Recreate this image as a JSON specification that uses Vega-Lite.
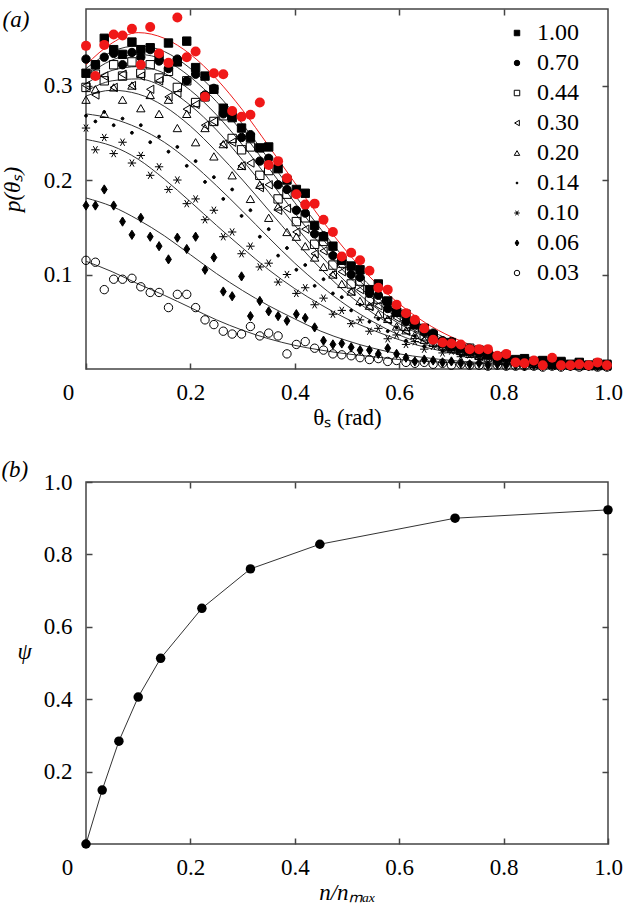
{
"$schema": "https://vega.github.io/schema/vega-lite/v6.json",
"padding": {"left": 0, "top": 7, "right": 10, "bottom": 0},
"spacing": 28,
"config": {
  "font": "Liberation Serif, Times New Roman, serif",
  "view": {"stroke": "#444", "strokeWidth": 1.5},
  "axis": {"domain": false, "grid": false, "tickSize": -6, "tickColor": "#444", "tickWidth": 1.5, "labelFontSize": 23, "labelColor": "black", "titleFontSize": 23, "titleFontWeight": "normal", "titleColor": "black", "labelFont": "Liberation Serif, Times New Roman, serif", "titleFont": "Liberation Serif, Times New Roman, serif", "labelFlush": false, "labelOverlap": false},
  "title": {"fontSize": 23, "fontWeight": "normal", "font": "Liberation Serif, Times New Roman, serif", "fontStyle": "italic", "orient": "left", "anchor": "end", "frame": "group", "angle": 0, "align": "left", "offset": -55}
},
"datasets": {
"curves": [
{"c":"R","t":0,"p":0.322},{"c":"R","t":0.05,"p":0.345},{"c":"R","t":0.1,"p":0.356},{"c":"R","t":0.15,"p":0.35},{"c":"R","t":0.2,"p":0.333},{"c":"R","t":0.25,"p":0.307},{"c":"R","t":0.3,"p":0.274},{"c":"R","t":0.35,"p":0.236},{"c":"R","t":0.4,"p":0.197},{"c":"R","t":0.45,"p":0.159},{"c":"R","t":0.5,"p":0.124},{"c":"R","t":0.55,"p":0.094},{"c":"R","t":0.6,"p":0.069},{"c":"R","t":0.65,"p":0.049},{"c":"R","t":0.7,"p":0.034},{"c":"R","t":0.75,"p":0.023},{"c":"R","t":0.8,"p":0.015},{"c":"R","t":0.85,"p":0.01},{"c":"R","t":0.9,"p":0.007},{"c":"R","t":0.95,"p":0.005},{"c":"R","t":1,"p":0.004},
{"c":"A","t":0,"p":0.318},{"c":"A","t":0.05,"p":0.336},{"c":"A","t":0.1,"p":0.342},{"c":"A","t":0.15,"p":0.336},{"c":"A","t":0.2,"p":0.318},{"c":"A","t":0.25,"p":0.292},{"c":"A","t":0.3,"p":0.259},{"c":"A","t":0.35,"p":0.222},{"c":"A","t":0.4,"p":0.184},{"c":"A","t":0.45,"p":0.148},{"c":"A","t":0.5,"p":0.114},{"c":"A","t":0.55,"p":0.085},{"c":"A","t":0.6,"p":0.062},{"c":"A","t":0.65,"p":0.044},{"c":"A","t":0.7,"p":0.03},{"c":"A","t":0.75,"p":0.02},{"c":"A","t":0.8,"p":0.013},{"c":"A","t":0.85,"p":0.009},{"c":"A","t":0.9,"p":0.006},{"c":"A","t":0.95,"p":0.005},{"c":"A","t":1,"p":0.004},
{"c":"B","t":0,"p":0.31},{"c":"B","t":0.05,"p":0.327},{"c":"B","t":0.1,"p":0.333},{"c":"B","t":0.15,"p":0.327},{"c":"B","t":0.2,"p":0.309},{"c":"B","t":0.25,"p":0.283},{"c":"B","t":0.3,"p":0.25},{"c":"B","t":0.35,"p":0.213},{"c":"B","t":0.4,"p":0.176},{"c":"B","t":0.45,"p":0.14},{"c":"B","t":0.5,"p":0.107},{"c":"B","t":0.55,"p":0.08},{"c":"B","t":0.6,"p":0.058},{"c":"B","t":0.65,"p":0.041},{"c":"B","t":0.7,"p":0.028},{"c":"B","t":0.75,"p":0.019},{"c":"B","t":0.8,"p":0.012},{"c":"B","t":0.85,"p":0.008},{"c":"B","t":0.9,"p":0.006},{"c":"B","t":0.95,"p":0.005},{"c":"B","t":1,"p":0.004},
{"c":"C","t":0,"p":0.302},{"c":"C","t":0.05,"p":0.316},{"c":"C","t":0.1,"p":0.32},{"c":"C","t":0.15,"p":0.313},{"c":"C","t":0.2,"p":0.295},{"c":"C","t":0.25,"p":0.269},{"c":"C","t":0.3,"p":0.237},{"c":"C","t":0.35,"p":0.201},{"c":"C","t":0.4,"p":0.165},{"c":"C","t":0.45,"p":0.131},{"c":"C","t":0.5,"p":0.1},{"c":"C","t":0.55,"p":0.074},{"c":"C","t":0.6,"p":0.053},{"c":"C","t":0.65,"p":0.037},{"c":"C","t":0.7,"p":0.026},{"c":"C","t":0.75,"p":0.017},{"c":"C","t":0.8,"p":0.011},{"c":"C","t":0.85,"p":0.008},{"c":"C","t":0.9,"p":0.006},{"c":"C","t":0.95,"p":0.005},{"c":"C","t":1,"p":0.004},
{"c":"D","t":0,"p":0.294},{"c":"D","t":0.05,"p":0.305},{"c":"D","t":0.1,"p":0.307},{"c":"D","t":0.15,"p":0.298},{"c":"D","t":0.2,"p":0.279},{"c":"D","t":0.25,"p":0.253},{"c":"D","t":0.3,"p":0.221},{"c":"D","t":0.35,"p":0.187},{"c":"D","t":0.4,"p":0.152},{"c":"D","t":0.45,"p":0.12},{"c":"D","t":0.5,"p":0.091},{"c":"D","t":0.55,"p":0.067},{"c":"D","t":0.6,"p":0.048},{"c":"D","t":0.65,"p":0.034},{"c":"D","t":0.7,"p":0.023},{"c":"D","t":0.75,"p":0.015},{"c":"D","t":0.8,"p":0.01},{"c":"D","t":0.85,"p":0.007},{"c":"D","t":0.9,"p":0.005},{"c":"D","t":0.95,"p":0.004},{"c":"D","t":1,"p":0.003},
{"c":"E","t":0,"p":0.289},{"c":"E","t":0.05,"p":0.295},{"c":"E","t":0.1,"p":0.291},{"c":"E","t":0.15,"p":0.278},{"c":"E","t":0.2,"p":0.257},{"c":"E","t":0.25,"p":0.23},{"c":"E","t":0.3,"p":0.2},{"c":"E","t":0.35,"p":0.168},{"c":"E","t":0.4,"p":0.136},{"c":"E","t":0.45,"p":0.106},{"c":"E","t":0.5,"p":0.08},{"c":"E","t":0.55,"p":0.059},{"c":"E","t":0.6,"p":0.042},{"c":"E","t":0.65,"p":0.029},{"c":"E","t":0.7,"p":0.02},{"c":"E","t":0.75,"p":0.013},{"c":"E","t":0.8,"p":0.009},{"c":"E","t":0.85,"p":0.006},{"c":"E","t":0.9,"p":0.005},{"c":"E","t":0.95,"p":0.004},{"c":"E","t":1,"p":0.003},
{"c":"F","t":0,"p":0.27},{"c":"F","t":0.05,"p":0.265},{"c":"F","t":0.1,"p":0.255},{"c":"F","t":0.15,"p":0.24},{"c":"F","t":0.2,"p":0.219},{"c":"F","t":0.25,"p":0.194},{"c":"F","t":0.3,"p":0.167},{"c":"F","t":0.35,"p":0.139},{"c":"F","t":0.4,"p":0.112},{"c":"F","t":0.45,"p":0.088},{"c":"F","t":0.5,"p":0.067},{"c":"F","t":0.55,"p":0.05},{"c":"F","t":0.6,"p":0.036},{"c":"F","t":0.65,"p":0.026},{"c":"F","t":0.7,"p":0.018},{"c":"F","t":0.75,"p":0.012},{"c":"F","t":0.8,"p":0.008},{"c":"F","t":0.85,"p":0.006},{"c":"F","t":0.9,"p":0.005},{"c":"F","t":0.95,"p":0.004},{"c":"F","t":1,"p":0.003},
{"c":"G","t":0,"p":0.243},{"c":"G","t":0.05,"p":0.236},{"c":"G","t":0.1,"p":0.222},{"c":"G","t":0.15,"p":0.201},{"c":"G","t":0.2,"p":0.177},{"c":"G","t":0.25,"p":0.152},{"c":"G","t":0.3,"p":0.128},{"c":"G","t":0.35,"p":0.105},{"c":"G","t":0.4,"p":0.085},{"c":"G","t":0.45,"p":0.068},{"c":"G","t":0.5,"p":0.053},{"c":"G","t":0.55,"p":0.041},{"c":"G","t":0.6,"p":0.031},{"c":"G","t":0.65,"p":0.023},{"c":"G","t":0.7,"p":0.017},{"c":"G","t":0.75,"p":0.012},{"c":"G","t":0.8,"p":0.009},{"c":"G","t":0.85,"p":0.006},{"c":"G","t":0.9,"p":0.005},{"c":"G","t":0.95,"p":0.004},{"c":"G","t":1,"p":0.003},
{"c":"H","t":0,"p":0.181},{"c":"H","t":0.05,"p":0.172},{"c":"H","t":0.1,"p":0.158},{"c":"H","t":0.15,"p":0.141},{"c":"H","t":0.2,"p":0.121},{"c":"H","t":0.25,"p":0.101},{"c":"H","t":0.3,"p":0.083},{"c":"H","t":0.35,"p":0.067},{"c":"H","t":0.4,"p":0.053},{"c":"H","t":0.45,"p":0.04},{"c":"H","t":0.5,"p":0.03},{"c":"H","t":0.55,"p":0.022},{"c":"H","t":0.6,"p":0.016},{"c":"H","t":0.65,"p":0.012},{"c":"H","t":0.7,"p":0.009},{"c":"H","t":0.75,"p":0.007},{"c":"H","t":0.8,"p":0.006},{"c":"H","t":0.85,"p":0.005},{"c":"H","t":0.9,"p":0.004},{"c":"H","t":0.95,"p":0.003},{"c":"H","t":1,"p":0.003},
{"c":"I","t":0,"p":0.114},{"c":"I","t":0.05,"p":0.103},{"c":"I","t":0.1,"p":0.09},{"c":"I","t":0.15,"p":0.078},{"c":"I","t":0.2,"p":0.065},{"c":"I","t":0.25,"p":0.052},{"c":"I","t":0.3,"p":0.041},{"c":"I","t":0.35,"p":0.032},{"c":"I","t":0.4,"p":0.025},{"c":"I","t":0.45,"p":0.02},{"c":"I","t":0.5,"p":0.016},{"c":"I","t":0.55,"p":0.013},{"c":"I","t":0.6,"p":0.01},{"c":"I","t":0.65,"p":0.008},{"c":"I","t":0.7,"p":0.007},{"c":"I","t":0.75,"p":0.006},{"c":"I","t":0.8,"p":0.005},{"c":"I","t":0.85,"p":0.004},{"c":"I","t":0.9,"p":0.004},{"c":"I","t":0.95,"p":0.003},{"c":"I","t":1,"p":0.003}
],
"pts": [
{"s":"0.03","t":0,"p":0.115},{"s":"0.03","t":0.018,"p":0.113},{"s":"0.03","t":0.035,"p":0.084},{"s":"0.03","t":0.053,"p":0.095},{"s":"0.03","t":0.07,"p":0.095},{"s":"0.03","t":0.088,"p":0.096},{"s":"0.03","t":0.105,"p":0.087},{"s":"0.03","t":0.123,"p":0.081},{"s":"0.03","t":0.14,"p":0.081},{"s":"0.03","t":0.158,"p":0.065},{"s":"0.03","t":0.175,"p":0.079},{"s":"0.03","t":0.193,"p":0.079},{"s":"0.03","t":0.21,"p":0.065},{"s":"0.03","t":0.228,"p":0.052},{"s":"0.03","t":0.245,"p":0.047},{"s":"0.03","t":0.263,"p":0.04},{"s":"0.03","t":0.28,"p":0.037},{"s":"0.03","t":0.298,"p":0.037},{"s":"0.03","t":0.315,"p":0.045},{"s":"0.03","t":0.333,"p":0.035},{"s":"0.03","t":0.35,"p":0.038},{"s":"0.03","t":0.368,"p":0.035},{"s":"0.03","t":0.385,"p":0.016},{"s":"0.03","t":0.403,"p":0.026},{"s":"0.03","t":0.42,"p":0.029},{"s":"0.03","t":0.438,"p":0.022},{"s":"0.03","t":0.455,"p":0.02},{"s":"0.03","t":0.473,"p":0.016},{"s":"0.03","t":0.49,"p":0.015},{"s":"0.03","t":0.508,"p":0.014},{"s":"0.03","t":0.525,"p":0.012},{"s":"0.03","t":0.543,"p":0.01},{"s":"0.03","t":0.56,"p":0.011},{"s":"0.03","t":0.578,"p":0.008},{"s":"0.03","t":0.595,"p":0.009},{"s":"0.03","t":0.613,"p":0.007},{"s":"0.03","t":0.63,"p":0.006},{"s":"0.03","t":0.648,"p":0.007},{"s":"0.03","t":0.665,"p":0.005},{"s":"0.03","t":0.683,"p":0.006},{"s":"0.03","t":0.7,"p":0.004},{"s":"0.03","t":0.718,"p":0.005},{"s":"0.03","t":0.735,"p":0.004},{"s":"0.03","t":0.753,"p":0.004},{"s":"0.03","t":0.77,"p":0.003},{"s":"0.03","t":0.788,"p":0.004},{"s":"0.03","t":0.805,"p":0.003},{"s":"0.03","t":0.823,"p":0.003},{"s":"0.03","t":0.84,"p":0.003},{"s":"0.03","t":0.858,"p":0.003},{"s":"0.03","t":0.875,"p":0.002},{"s":"0.03","t":0.893,"p":0.003},{"s":"0.03","t":0.91,"p":0.002},{"s":"0.03","t":0.928,"p":0.003},{"s":"0.03","t":0.945,"p":0.002},{"s":"0.03","t":0.963,"p":0.003},{"s":"0.03","t":0.98,"p":0.002},{"s":"0.03","t":0.998,"p":0.002},
{"s":"0.06","t":0,"p":0.173},{"s":"0.06","t":0.018,"p":0.173},{"s":"0.06","t":0.035,"p":0.19},{"s":"0.06","t":0.053,"p":0.173},{"s":"0.06","t":0.07,"p":0.156},{"s":"0.06","t":0.088,"p":0.142},{"s":"0.06","t":0.105,"p":0.16},{"s":"0.06","t":0.123,"p":0.14},{"s":"0.06","t":0.14,"p":0.13},{"s":"0.06","t":0.158,"p":0.116},{"s":"0.06","t":0.175,"p":0.139},{"s":"0.06","t":0.193,"p":0.127},{"s":"0.06","t":0.21,"p":0.14},{"s":"0.06","t":0.228,"p":0.105},{"s":"0.06","t":0.245,"p":0.118},{"s":"0.06","t":0.263,"p":0.082},{"s":"0.06","t":0.28,"p":0.077},{"s":"0.06","t":0.298,"p":0.098},{"s":"0.06","t":0.315,"p":0.056},{"s":"0.06","t":0.333,"p":0.072},{"s":"0.06","t":0.35,"p":0.061},{"s":"0.06","t":0.368,"p":0.056},{"s":"0.06","t":0.385,"p":0.051},{"s":"0.06","t":0.403,"p":0.058},{"s":"0.06","t":0.42,"p":0.054},{"s":"0.06","t":0.438,"p":0.044},{"s":"0.06","t":0.455,"p":0.03},{"s":"0.06","t":0.473,"p":0.026},{"s":"0.06","t":0.49,"p":0.027},{"s":"0.06","t":0.508,"p":0.023},{"s":"0.06","t":0.525,"p":0.02},{"s":"0.06","t":0.543,"p":0.02},{"s":"0.06","t":0.56,"p":0.016},{"s":"0.06","t":0.578,"p":0.022},{"s":"0.06","t":0.595,"p":0.016},{"s":"0.06","t":0.613,"p":0.012},{"s":"0.06","t":0.63,"p":0.008},{"s":"0.06","t":0.648,"p":0.01},{"s":"0.06","t":0.665,"p":0.009},{"s":"0.06","t":0.683,"p":0.007},{"s":"0.06","t":0.7,"p":0.008},{"s":"0.06","t":0.718,"p":0.006},{"s":"0.06","t":0.735,"p":0.005},{"s":"0.06","t":0.753,"p":0.006},{"s":"0.06","t":0.77,"p":0.004},{"s":"0.06","t":0.788,"p":0.005},{"s":"0.06","t":0.805,"p":0.004},{"s":"0.06","t":0.823,"p":0.004},{"s":"0.06","t":0.84,"p":0.003},{"s":"0.06","t":0.858,"p":0.004},{"s":"0.06","t":0.875,"p":0.003},{"s":"0.06","t":0.893,"p":0.004},{"s":"0.06","t":0.91,"p":0.003},{"s":"0.06","t":0.928,"p":0.003},{"s":"0.06","t":0.945,"p":0.004},{"s":"0.06","t":0.963,"p":0.003},{"s":"0.06","t":0.98,"p":0.003},{"s":"0.06","t":0.998,"p":0.003},
{"s":"0.10","t":0,"p":0.255},{"s":"0.10","t":0.018,"p":0.232},{"s":"0.10","t":0.035,"p":0.245},{"s":"0.10","t":0.053,"p":0.228},{"s":"0.10","t":0.07,"p":0.24},{"s":"0.10","t":0.088,"p":0.218},{"s":"0.10","t":0.105,"p":0.226},{"s":"0.10","t":0.123,"p":0.205},{"s":"0.10","t":0.14,"p":0.214},{"s":"0.10","t":0.158,"p":0.19},{"s":"0.10","t":0.175,"p":0.2},{"s":"0.10","t":0.193,"p":0.175},{"s":"0.10","t":0.21,"p":0.18},{"s":"0.10","t":0.228,"p":0.158},{"s":"0.10","t":0.245,"p":0.168},{"s":"0.10","t":0.263,"p":0.14},{"s":"0.10","t":0.28,"p":0.145},{"s":"0.10","t":0.298,"p":0.122},{"s":"0.10","t":0.315,"p":0.13},{"s":"0.10","t":0.333,"p":0.108},{"s":"0.10","t":0.35,"p":0.112},{"s":"0.10","t":0.368,"p":0.092},{"s":"0.10","t":0.385,"p":0.1},{"s":"0.10","t":0.403,"p":0.08},{"s":"0.10","t":0.42,"p":0.086},{"s":"0.10","t":0.438,"p":0.068},{"s":"0.10","t":0.455,"p":0.075},{"s":"0.10","t":0.473,"p":0.058},{"s":"0.10","t":0.49,"p":0.062},{"s":"0.10","t":0.508,"p":0.048},{"s":"0.10","t":0.525,"p":0.052},{"s":"0.10","t":0.543,"p":0.04},{"s":"0.10","t":0.56,"p":0.043},{"s":"0.10","t":0.578,"p":0.032},{"s":"0.10","t":0.595,"p":0.036},{"s":"0.10","t":0.613,"p":0.026},{"s":"0.10","t":0.63,"p":0.029},{"s":"0.10","t":0.648,"p":0.021},{"s":"0.10","t":0.665,"p":0.024},{"s":"0.10","t":0.683,"p":0.017},{"s":"0.10","t":0.7,"p":0.019},{"s":"0.10","t":0.718,"p":0.013},{"s":"0.10","t":0.735,"p":0.015},{"s":"0.10","t":0.753,"p":0.01},{"s":"0.10","t":0.77,"p":0.012},{"s":"0.10","t":0.788,"p":0.008},{"s":"0.10","t":0.805,"p":0.009},{"s":"0.10","t":0.823,"p":0.006},{"s":"0.10","t":0.84,"p":0.007},{"s":"0.10","t":0.858,"p":0.005},{"s":"0.10","t":0.875,"p":0.006},{"s":"0.10","t":0.893,"p":0.004},{"s":"0.10","t":0.91,"p":0.005},{"s":"0.10","t":0.928,"p":0.004},{"s":"0.10","t":0.945,"p":0.004},{"s":"0.10","t":0.963,"p":0.003},{"s":"0.10","t":0.98,"p":0.004},{"s":"0.10","t":0.998,"p":0.003},
{"s":"0.14","t":0,"p":0.268},{"s":"0.14","t":0.018,"p":0.262},{"s":"0.14","t":0.035,"p":0.272},{"s":"0.14","t":0.053,"p":0.258},{"s":"0.14","t":0.07,"p":0.265},{"s":"0.14","t":0.088,"p":0.25},{"s":"0.14","t":0.105,"p":0.258},{"s":"0.14","t":0.123,"p":0.24},{"s":"0.14","t":0.14,"p":0.246},{"s":"0.14","t":0.158,"p":0.23},{"s":"0.14","t":0.175,"p":0.235},{"s":"0.14","t":0.193,"p":0.215},{"s":"0.14","t":0.21,"p":0.22},{"s":"0.14","t":0.228,"p":0.198},{"s":"0.14","t":0.245,"p":0.203},{"s":"0.14","t":0.263,"p":0.18},{"s":"0.14","t":0.28,"p":0.19},{"s":"0.14","t":0.298,"p":0.162},{"s":"0.14","t":0.315,"p":0.168},{"s":"0.14","t":0.333,"p":0.14},{"s":"0.14","t":0.35,"p":0.148},{"s":"0.14","t":0.368,"p":0.12},{"s":"0.14","t":0.385,"p":0.128},{"s":"0.14","t":0.403,"p":0.105},{"s":"0.14","t":0.42,"p":0.11},{"s":"0.14","t":0.438,"p":0.088},{"s":"0.14","t":0.455,"p":0.095},{"s":"0.14","t":0.473,"p":0.08},{"s":"0.14","t":0.49,"p":0.076},{"s":"0.14","t":0.508,"p":0.062},{"s":"0.14","t":0.525,"p":0.068},{"s":"0.14","t":0.543,"p":0.05},{"s":"0.14","t":0.56,"p":0.053},{"s":"0.14","t":0.578,"p":0.04},{"s":"0.14","t":0.595,"p":0.044},{"s":"0.14","t":0.613,"p":0.03},{"s":"0.14","t":0.63,"p":0.035},{"s":"0.14","t":0.648,"p":0.024},{"s":"0.14","t":0.665,"p":0.028},{"s":"0.14","t":0.683,"p":0.019},{"s":"0.14","t":0.7,"p":0.021},{"s":"0.14","t":0.718,"p":0.014},{"s":"0.14","t":0.735,"p":0.017},{"s":"0.14","t":0.753,"p":0.01},{"s":"0.14","t":0.77,"p":0.012},{"s":"0.14","t":0.788,"p":0.007},{"s":"0.14","t":0.805,"p":0.009},{"s":"0.14","t":0.823,"p":0.006},{"s":"0.14","t":0.84,"p":0.008},{"s":"0.14","t":0.858,"p":0.005},{"s":"0.14","t":0.875,"p":0.006},{"s":"0.14","t":0.893,"p":0.004},{"s":"0.14","t":0.91,"p":0.005},{"s":"0.14","t":0.928,"p":0.004},{"s":"0.14","t":0.945,"p":0.004},{"s":"0.14","t":0.963,"p":0.003},{"s":"0.14","t":0.98,"p":0.004},{"s":"0.14","t":0.998,"p":0.003},
{"s":"0.20","t":0,"p":0.285},{"s":"0.20","t":0.018,"p":0.296},{"s":"0.20","t":0.035,"p":0.27},{"s":"0.20","t":0.053,"p":0.298},{"s":"0.20","t":0.07,"p":0.285},{"s":"0.20","t":0.088,"p":0.3},{"s":"0.20","t":0.105,"p":0.276},{"s":"0.20","t":0.123,"p":0.29},{"s":"0.20","t":0.14,"p":0.27},{"s":"0.20","t":0.158,"p":0.285},{"s":"0.20","t":0.175,"p":0.255},{"s":"0.20","t":0.193,"p":0.27},{"s":"0.20","t":0.21,"p":0.24},{"s":"0.20","t":0.228,"p":0.255},{"s":"0.20","t":0.245,"p":0.225},{"s":"0.20","t":0.263,"p":0.238},{"s":"0.20","t":0.28,"p":0.205},{"s":"0.20","t":0.298,"p":0.215},{"s":"0.20","t":0.315,"p":0.18},{"s":"0.20","t":0.333,"p":0.195},{"s":"0.20","t":0.35,"p":0.16},{"s":"0.20","t":0.368,"p":0.172},{"s":"0.20","t":0.385,"p":0.145},{"s":"0.20","t":0.403,"p":0.14},{"s":"0.20","t":0.42,"p":0.13},{"s":"0.20","t":0.438,"p":0.118},{"s":"0.20","t":0.455,"p":0.108},{"s":"0.20","t":0.473,"p":0.1},{"s":"0.20","t":0.49,"p":0.09},{"s":"0.20","t":0.508,"p":0.082},{"s":"0.20","t":0.525,"p":0.072},{"s":"0.20","t":0.543,"p":0.067},{"s":"0.20","t":0.56,"p":0.058},{"s":"0.20","t":0.578,"p":0.053},{"s":"0.20","t":0.595,"p":0.045},{"s":"0.20","t":0.613,"p":0.041},{"s":"0.20","t":0.63,"p":0.036},{"s":"0.20","t":0.648,"p":0.031},{"s":"0.20","t":0.665,"p":0.028},{"s":"0.20","t":0.683,"p":0.024},{"s":"0.20","t":0.7,"p":0.021},{"s":"0.20","t":0.718,"p":0.019},{"s":"0.20","t":0.735,"p":0.016},{"s":"0.20","t":0.753,"p":0.014},{"s":"0.20","t":0.77,"p":0.012},{"s":"0.20","t":0.788,"p":0.011},{"s":"0.20","t":0.805,"p":0.009},{"s":"0.20","t":0.823,"p":0.008},{"s":"0.20","t":0.84,"p":0.007},{"s":"0.20","t":0.858,"p":0.006},{"s":"0.20","t":0.875,"p":0.005},{"s":"0.20","t":0.893,"p":0.005},{"s":"0.20","t":0.91,"p":0.004},{"s":"0.20","t":0.928,"p":0.004},{"s":"0.20","t":0.945,"p":0.003},{"s":"0.20","t":0.963,"p":0.004},{"s":"0.20","t":0.98,"p":0.003},{"s":"0.20","t":0.998,"p":0.003},
{"s":"0.30","t":0,"p":0.3},{"s":"0.30","t":0.018,"p":0.29},{"s":"0.30","t":0.035,"p":0.31},{"s":"0.30","t":0.053,"p":0.298},{"s":"0.30","t":0.07,"p":0.312},{"s":"0.30","t":0.088,"p":0.3},{"s":"0.30","t":0.105,"p":0.31},{"s":"0.30","t":0.123,"p":0.296},{"s":"0.30","t":0.14,"p":0.305},{"s":"0.30","t":0.158,"p":0.288},{"s":"0.30","t":0.175,"p":0.292},{"s":"0.30","t":0.193,"p":0.275},{"s":"0.30","t":0.21,"p":0.28},{"s":"0.30","t":0.228,"p":0.258},{"s":"0.30","t":0.245,"p":0.262},{"s":"0.30","t":0.263,"p":0.238},{"s":"0.30","t":0.28,"p":0.24},{"s":"0.30","t":0.298,"p":0.215},{"s":"0.30","t":0.315,"p":0.218},{"s":"0.30","t":0.333,"p":0.192},{"s":"0.30","t":0.35,"p":0.195},{"s":"0.30","t":0.368,"p":0.168},{"s":"0.30","t":0.385,"p":0.17},{"s":"0.30","t":0.403,"p":0.145},{"s":"0.30","t":0.42,"p":0.148},{"s":"0.30","t":0.438,"p":0.122},{"s":"0.30","t":0.455,"p":0.125},{"s":"0.30","t":0.473,"p":0.1},{"s":"0.30","t":0.49,"p":0.103},{"s":"0.30","t":0.508,"p":0.082},{"s":"0.30","t":0.525,"p":0.084},{"s":"0.30","t":0.543,"p":0.066},{"s":"0.30","t":0.56,"p":0.067},{"s":"0.30","t":0.578,"p":0.052},{"s":"0.30","t":0.595,"p":0.054},{"s":"0.30","t":0.613,"p":0.04},{"s":"0.30","t":0.63,"p":0.043},{"s":"0.30","t":0.648,"p":0.031},{"s":"0.30","t":0.665,"p":0.034},{"s":"0.30","t":0.683,"p":0.024},{"s":"0.30","t":0.7,"p":0.025},{"s":"0.30","t":0.718,"p":0.018},{"s":"0.30","t":0.735,"p":0.019},{"s":"0.30","t":0.753,"p":0.013},{"s":"0.30","t":0.77,"p":0.015},{"s":"0.30","t":0.788,"p":0.009},{"s":"0.30","t":0.805,"p":0.011},{"s":"0.30","t":0.823,"p":0.007},{"s":"0.30","t":0.84,"p":0.009},{"s":"0.30","t":0.858,"p":0.005},{"s":"0.30","t":0.875,"p":0.007},{"s":"0.30","t":0.893,"p":0.004},{"s":"0.30","t":0.91,"p":0.006},{"s":"0.30","t":0.928,"p":0.004},{"s":"0.30","t":0.945,"p":0.005},{"s":"0.30","t":0.963,"p":0.003},{"s":"0.30","t":0.98,"p":0.004},{"s":"0.30","t":0.998,"p":0.003},
{"s":"0.44","t":0,"p":0.298},{"s":"0.44","t":0.018,"p":0.312},{"s":"0.44","t":0.035,"p":0.305},{"s":"0.44","t":0.053,"p":0.322},{"s":"0.44","t":0.07,"p":0.31},{"s":"0.44","t":0.088,"p":0.325},{"s":"0.44","t":0.105,"p":0.313},{"s":"0.44","t":0.123,"p":0.322},{"s":"0.44","t":0.14,"p":0.308},{"s":"0.44","t":0.158,"p":0.315},{"s":"0.44","t":0.175,"p":0.298},{"s":"0.44","t":0.193,"p":0.305},{"s":"0.44","t":0.21,"p":0.282},{"s":"0.44","t":0.228,"p":0.288},{"s":"0.44","t":0.245,"p":0.262},{"s":"0.44","t":0.263,"p":0.268},{"s":"0.44","t":0.28,"p":0.244},{"s":"0.44","t":0.298,"p":0.232},{"s":"0.44","t":0.315,"p":0.235},{"s":"0.44","t":0.333,"p":0.205},{"s":"0.44","t":0.35,"p":0.21},{"s":"0.44","t":0.368,"p":0.18},{"s":"0.44","t":0.385,"p":0.185},{"s":"0.44","t":0.403,"p":0.156},{"s":"0.44","t":0.42,"p":0.16},{"s":"0.44","t":0.438,"p":0.132},{"s":"0.44","t":0.455,"p":0.135},{"s":"0.44","t":0.473,"p":0.11},{"s":"0.44","t":0.49,"p":0.112},{"s":"0.44","t":0.508,"p":0.09},{"s":"0.44","t":0.525,"p":0.093},{"s":"0.44","t":0.543,"p":0.072},{"s":"0.44","t":0.56,"p":0.074},{"s":"0.44","t":0.578,"p":0.058},{"s":"0.44","t":0.595,"p":0.06},{"s":"0.44","t":0.613,"p":0.045},{"s":"0.44","t":0.63,"p":0.047},{"s":"0.44","t":0.648,"p":0.035},{"s":"0.44","t":0.665,"p":0.036},{"s":"0.44","t":0.683,"p":0.027},{"s":"0.44","t":0.7,"p":0.028},{"s":"0.44","t":0.718,"p":0.02},{"s":"0.44","t":0.735,"p":0.022},{"s":"0.44","t":0.753,"p":0.015},{"s":"0.44","t":0.77,"p":0.016},{"s":"0.44","t":0.788,"p":0.011},{"s":"0.44","t":0.805,"p":0.012},{"s":"0.44","t":0.823,"p":0.008},{"s":"0.44","t":0.84,"p":0.009},{"s":"0.44","t":0.858,"p":0.006},{"s":"0.44","t":0.875,"p":0.008},{"s":"0.44","t":0.893,"p":0.005},{"s":"0.44","t":0.91,"p":0.007},{"s":"0.44","t":0.928,"p":0.004},{"s":"0.44","t":0.945,"p":0.006},{"s":"0.44","t":0.963,"p":0.004},{"s":"0.44","t":0.98,"p":0.005},{"s":"0.44","t":0.998,"p":0.004},
{"s":"0.70","t":0,"p":0.328},{"s":"0.70","t":0.018,"p":0.322},{"s":"0.70","t":0.035,"p":0.33},{"s":"0.70","t":0.053,"p":0.334},{"s":"0.70","t":0.07,"p":0.322},{"s":"0.70","t":0.088,"p":0.335},{"s":"0.70","t":0.105,"p":0.33},{"s":"0.70","t":0.123,"p":0.338},{"s":"0.70","t":0.14,"p":0.326},{"s":"0.70","t":0.158,"p":0.318},{"s":"0.70","t":0.175,"p":0.328},{"s":"0.70","t":0.193,"p":0.305},{"s":"0.70","t":0.21,"p":0.312},{"s":"0.70","t":0.228,"p":0.29},{"s":"0.70","t":0.245,"p":0.297},{"s":"0.70","t":0.263,"p":0.27},{"s":"0.70","t":0.28,"p":0.272},{"s":"0.70","t":0.298,"p":0.245},{"s":"0.70","t":0.315,"p":0.248},{"s":"0.70","t":0.333,"p":0.22},{"s":"0.70","t":0.35,"p":0.223},{"s":"0.70","t":0.368,"p":0.195},{"s":"0.70","t":0.385,"p":0.19},{"s":"0.70","t":0.403,"p":0.168},{"s":"0.70","t":0.42,"p":0.165},{"s":"0.70","t":0.438,"p":0.143},{"s":"0.70","t":0.455,"p":0.141},{"s":"0.70","t":0.473,"p":0.12},{"s":"0.70","t":0.49,"p":0.118},{"s":"0.70","t":0.508,"p":0.1},{"s":"0.70","t":0.525,"p":0.097},{"s":"0.70","t":0.543,"p":0.08},{"s":"0.70","t":0.56,"p":0.078},{"s":"0.70","t":0.578,"p":0.064},{"s":"0.70","t":0.595,"p":0.062},{"s":"0.70","t":0.613,"p":0.05},{"s":"0.70","t":0.63,"p":0.049},{"s":"0.70","t":0.648,"p":0.039},{"s":"0.70","t":0.665,"p":0.038},{"s":"0.70","t":0.683,"p":0.03},{"s":"0.70","t":0.7,"p":0.029},{"s":"0.70","t":0.718,"p":0.023},{"s":"0.70","t":0.735,"p":0.022},{"s":"0.70","t":0.753,"p":0.017},{"s":"0.70","t":0.77,"p":0.017},{"s":"0.70","t":0.788,"p":0.012},{"s":"0.70","t":0.805,"p":0.013},{"s":"0.70","t":0.823,"p":0.009},{"s":"0.70","t":0.84,"p":0.01},{"s":"0.70","t":0.858,"p":0.007},{"s":"0.70","t":0.875,"p":0.008},{"s":"0.70","t":0.893,"p":0.005},{"s":"0.70","t":0.91,"p":0.007},{"s":"0.70","t":0.928,"p":0.004},{"s":"0.70","t":0.945,"p":0.006},{"s":"0.70","t":0.963,"p":0.004},{"s":"0.70","t":0.98,"p":0.005},{"s":"0.70","t":0.998,"p":0.004},
{"s":"1.00","t":0,"p":0.313},{"s":"1.00","t":0.018,"p":0.322},{"s":"1.00","t":0.035,"p":0.35},{"s":"1.00","t":0.053,"p":0.338},{"s":"1.00","t":0.07,"p":0.333},{"s":"1.00","t":0.088,"p":0.346},{"s":"1.00","t":0.105,"p":0.338},{"s":"1.00","t":0.123,"p":0.34},{"s":"1.00","t":0.14,"p":0.33},{"s":"1.00","t":0.158,"p":0.345},{"s":"1.00","t":0.175,"p":0.325},{"s":"1.00","t":0.193,"p":0.347},{"s":"1.00","t":0.21,"p":0.319},{"s":"1.00","t":0.228,"p":0.31},{"s":"1.00","t":0.245,"p":0.296},{"s":"1.00","t":0.263,"p":0.276},{"s":"1.00","t":0.28,"p":0.266},{"s":"1.00","t":0.298,"p":0.255},{"s":"1.00","t":0.315,"p":0.245},{"s":"1.00","t":0.333,"p":0.234},{"s":"1.00","t":0.35,"p":0.235},{"s":"1.00","t":0.368,"p":0.212},{"s":"1.00","t":0.385,"p":0.2},{"s":"1.00","t":0.403,"p":0.19},{"s":"1.00","t":0.42,"p":0.186},{"s":"1.00","t":0.438,"p":0.152},{"s":"1.00","t":0.455,"p":0.14},{"s":"1.00","t":0.473,"p":0.13},{"s":"1.00","t":0.49,"p":0.115},{"s":"1.00","t":0.508,"p":0.109},{"s":"1.00","t":0.525,"p":0.105},{"s":"1.00","t":0.543,"p":0.084},{"s":"1.00","t":0.56,"p":0.09},{"s":"1.00","t":0.578,"p":0.072},{"s":"1.00","t":0.595,"p":0.06},{"s":"1.00","t":0.613,"p":0.058},{"s":"1.00","t":0.63,"p":0.047},{"s":"1.00","t":0.648,"p":0.043},{"s":"1.00","t":0.665,"p":0.035},{"s":"1.00","t":0.683,"p":0.028},{"s":"1.00","t":0.7,"p":0.024},{"s":"1.00","t":0.718,"p":0.022},{"s":"1.00","t":0.735,"p":0.019},{"s":"1.00","t":0.753,"p":0.02},{"s":"1.00","t":0.77,"p":0.015},{"s":"1.00","t":0.788,"p":0.013},{"s":"1.00","t":0.805,"p":0.014},{"s":"1.00","t":0.823,"p":0.01},{"s":"1.00","t":0.84,"p":0.011},{"s":"1.00","t":0.858,"p":0.008},{"s":"1.00","t":0.875,"p":0.009},{"s":"1.00","t":0.893,"p":0.006},{"s":"1.00","t":0.91,"p":0.008},{"s":"1.00","t":0.928,"p":0.005},{"s":"1.00","t":0.945,"p":0.007},{"s":"1.00","t":0.963,"p":0.004},{"s":"1.00","t":0.98,"p":0.006},{"s":"1.00","t":0.998,"p":0.005}
],
"red": [
{"t":0,"p":0.342},{"t":0.018,"p":0.31},{"t":0.035,"p":0.343},{"t":0.053,"p":0.354},{"t":0.07,"p":0.353},{"t":0.088,"p":0.36},{"t":0.105,"p":0.322},{"t":0.123,"p":0.362},{"t":0.14,"p":0.334},{"t":0.158,"p":0.324},{"t":0.175,"p":0.372},{"t":0.193,"p":0.33},{"t":0.21,"p":0.336},{"t":0.228,"p":0.288},{"t":0.245,"p":0.313},{"t":0.263,"p":0.312},{"t":0.28,"p":0.273},{"t":0.298,"p":0.267},{"t":0.315,"p":0.269},{"t":0.333,"p":0.282},{"t":0.35,"p":0.216},{"t":0.368,"p":0.22},{"t":0.385,"p":0.202},{"t":0.403,"p":0.185},{"t":0.42,"p":0.174},{"t":0.438,"p":0.175},{"t":0.455,"p":0.158},{"t":0.473,"p":0.145},{"t":0.49,"p":0.119},{"t":0.508,"p":0.123},{"t":0.525,"p":0.115},{"t":0.543,"p":0.104},{"t":0.56,"p":0.086},{"t":0.578,"p":0.084},{"t":0.595,"p":0.068},{"t":0.613,"p":0.059},{"t":0.63,"p":0.052},{"t":0.648,"p":0.043},{"t":0.665,"p":0.031},{"t":0.683,"p":0.028},{"t":0.7,"p":0.027},{"t":0.718,"p":0.026},{"t":0.735,"p":0.021},{"t":0.753,"p":0.021},{"t":0.77,"p":0.021},{"t":0.788,"p":0.014},{"t":0.805,"p":0.016},{"t":0.823,"p":0.007},{"t":0.84,"p":0.006},{"t":0.858,"p":0.009},{"t":0.875,"p":0.004},{"t":0.893,"p":0.012},{"t":0.91,"p":0.004},{"t":0.928,"p":0.004},{"t":0.945,"p":0.005},{"t":0.963,"p":0.004},{"t":0.98,"p":0.007},{"t":0.998,"p":0.004}
],
"psi": [
{"n":0,"v":0},{"n":0.031,"v":0.149},{"n":0.063,"v":0.284},{"n":0.1,"v":0.406},{"n":0.143,"v":0.513},{"n":0.222,"v":0.651},{"n":0.315,"v":0.76},{"n":0.448,"v":0.828},{"n":0.707,"v":0.9},{"n":1.0,"v":0.923}
]
},
"vconcat": [
{
  "width": 522, "height": 360,
  "title": {"text": "(a)", "baseline": "top"},
  "resolve": {"axis": {"x": "independent", "y": "independent"}},
  "layer": [
    {"data": {"name": "curves"},
     "mark": {"type": "line", "interpolate": "monotone", "strokeWidth": 1},
     "encoding": {
       "x": {"field": "t", "type": "quantitative", "scale": {"domain": [0, 1], "nice": false},
             "axis": {"orient": "bottom", "values": [0, 0.2, 0.4, 0.6, 0.8, 1], "labelExpr": "datum.value === 0 ? '0' : format(datum.value, '.1f')", "labelOffset": {"condition": {"test": "datum.value === 0", "value": -18}, "value": 0}, "labelPadding": 18, "title": "θₛ (rad)", "titlePadding": 2}},
       "y": {"field": "p", "type": "quantitative", "scale": {"domain": [0, 0.381], "nice": false},
             "axis": {"orient": "left", "values": [0.1, 0.2, 0.3], "format": ".1f", "labelPadding": 20, "title": "p(θₛ)", "titleFontStyle": "italic", "titlePadding": 19}},
       "detail": {"field": "c"},
       "color": {"field": "c", "type": "nominal", "legend": null,
                 "scale": {"domain": ["R","A","B","C","D","E","F","G","H","I"], "range": ["#ee1c1c","#333","#333","#333","#333","#333","#333","#333","#333","#333"]}}
     }},
    {"data": {"name": "pts"},
     "mark": {"type": "point", "filled": true, "size": 70, "strokeWidth": 1, "opacity": 1},
     "encoding": {
       "x": {"field": "t", "type": "quantitative", "axis": {"orient": "top", "values": [0.2, 0.4, 0.6, 0.8], "labels": false, "title": null}},
       "y": {"field": "p", "type": "quantitative", "axis": {"orient": "right", "values": [0.1, 0.2, 0.3], "labels": false, "title": null}},
       "shape": {"field": "s", "type": "nominal",
                 "scale": {"domain": ["1.00","0.70","0.44","0.30","0.20","0.14","0.10","0.06","0.03"],
                           "range": ["square","circle","square","triangle-left","triangle-up","M-0.35,0A0.35,0.35 0 1 1 0.35,0A0.35,0.35 0 1 1 -0.35,0Z","M-1,0L1,0M-0.5,-0.866L0.5,0.866M-0.5,0.866L0.5,-0.866","M0,-1.1L0.7,0L0,1.1L-0.7,0Z","circle"]},
                 "legend": {"title": null, "orient": "none", "legendX": 419, "legendY": 12, "labelFontSize": 24, "labelFont": "Liberation Serif, Times New Roman, serif", "labelColor": "black", "symbolSize": 30, "rowPadding": 6, "labelOffset": 8, "symbolStrokeWidth": 1, "padding": 0}},
       "fill": {"field": "s", "type": "nominal",
                "scale": {"domain": ["1.00","0.70","0.44","0.30","0.20","0.14","0.10","0.06","0.03"],
                          "range": ["black","black","transparent","transparent","transparent","black","transparent","black","transparent"]}},
       "stroke": {"field": "s", "type": "nominal",
                "scale": {"domain": ["1.00","0.70","0.44","0.30","0.20","0.14","0.10","0.06","0.03"],
                          "range": ["black","black","black","black","black","black","black","black","black"]}}
     }},
    {"data": {"name": "red"},
     "mark": {"type": "circle", "size": 100, "color": "#f01818", "opacity": 1},
     "encoding": {
       "x": {"field": "t", "type": "quantitative", "axis": null},
       "y": {"field": "p", "type": "quantitative", "axis": null}
     }}
  ]
},
{
  "width": 522, "height": 362,
  "title": {"text": "(b)", "baseline": "bottom", "offset": -38},
  "resolve": {"axis": {"x": "independent", "y": "independent"}},
  "layer": [
    {"data": {"name": "psi"},
     "mark": {"type": "line", "strokeWidth": 1, "color": "#333"},
     "encoding": {
       "x": {"field": "n", "type": "quantitative", "scale": {"domain": [0, 1], "nice": false},
             "axis": {"orient": "bottom", "values": [0, 0.2, 0.4, 0.6, 0.8, 1], "labelExpr": "datum.value === 0 ? '0' : format(datum.value, '.1f')", "labelOffset": {"condition": {"test": "datum.value === 0", "value": -19}, "value": 0}, "labelPadding": 18, "title": "n/nₘₐₓ", "titleFontStyle": "italic", "titlePadding": 2}},
       "y": {"field": "v", "type": "quantitative", "scale": {"domain": [0, 1], "nice": false},
             "axis": {"orient": "left", "values": [0.2, 0.4, 0.6, 0.8, 1], "format": ".1f", "labelPadding": 20, "title": "ψ", "titleFontStyle": "italic", "titleAngle": 0, "titlePadding": 19}}
     }},
    {"data": {"name": "psi"},
     "mark": {"type": "circle", "size": 90, "color": "black", "opacity": 1},
     "encoding": {
       "x": {"field": "n", "type": "quantitative", "axis": {"orient": "top", "values": [0.2, 0.4, 0.6, 0.8], "labels": false, "title": null}},
       "y": {"field": "v", "type": "quantitative", "axis": {"orient": "right", "values": [0.2, 0.4, 0.6, 0.8], "labels": false, "title": null}}
     }}
  ]
}
]
}
